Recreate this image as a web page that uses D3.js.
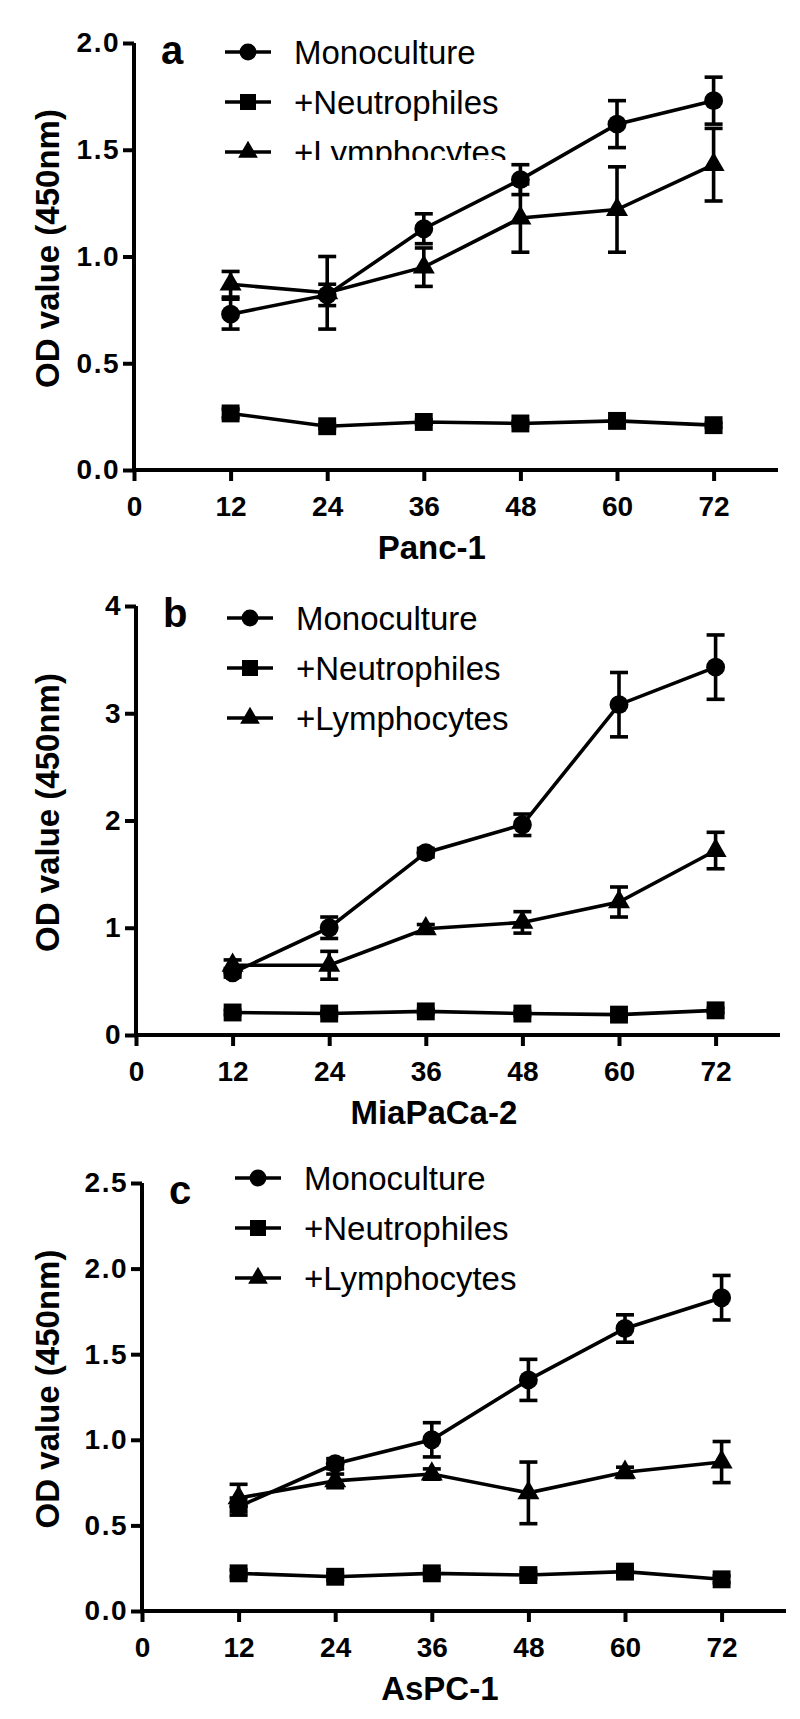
<!DOCTYPE html>
<html>
<head>
<meta charset="utf-8">
<script src="https://cdn.jsdelivr.net/npm/d3@7"></script>
<style>
  html, body { margin: 0; padding: 0; background: #fff; }
  svg { display: block; }
  text { font-family: "Liberation Sans", Arial, sans-serif; fill: #000; }
</style>
</head>
<body>
<svg id="chart" width="800" height="1719"></svg>
<script>
// ---------- data ----------
const hours = [12, 24, 36, 48, 60, 72];
const xTickValues = [0, 12, 24, 36, 48, 60, 72];
const seriesNames = ["Monoculture", "+Neutrophiles", "+Lymphocytes"];
const panelLetters = ["a", "b", "c"];
const cellLines = ["Panc-1", "MiaPaCa-2", "AsPC-1"];

const yTicksA = [0, 0.5, 1.0, 1.5, 2.0];
const yTicksB = [0, 1, 2, 3, 4];
const yTicksC = [0, 0.5, 1.0, 1.5, 2.0, 2.5];

// Panel a: Panc-1
const monoA = [0.73, 0.82, 1.13, 1.36, 1.62, 1.73];
const monoAErr = [0.07, 0.05, 0.07, 0.07, 0.11, 0.11];
const neutA = [0.265, 0.205, 0.225, 0.218, 0.23, 0.21];
const neutAErr = [0.02, 0.01, 0.01, 0.01, 0.01, 0.01];
const lymA = [0.87, 0.83, 0.95, 1.18, 1.22, 1.43];
const lymAErr = [0.06, 0.17, 0.09, 0.16, 0.20, 0.17];

// Panel b: MiaPaCa-2
const monoB = [0.58, 1.0, 1.70, 1.96, 3.08, 3.43];
const monoBErr = [0.04, 0.10, 0.04, 0.10, 0.30, 0.30];
const neutB = [0.21, 0.20, 0.22, 0.20, 0.19, 0.23];
const neutBErr = [0.02, 0.02, 0.02, 0.02, 0.02, 0.02];
const lymB = [0.65, 0.65, 0.99, 1.05, 1.24, 1.72];
const lymBErr = [0.05, 0.13, 0.04, 0.10, 0.14, 0.17];

// Panel c: AsPC-1
const monoC = [0.61, 0.86, 1.0, 1.35, 1.65, 1.83];
const monoCErr = [0.05, 0.03, 0.10, 0.12, 0.08, 0.13];
const neutC = [0.22, 0.20, 0.22, 0.21, 0.23, 0.185];
const neutCErr = [0.02, 0.02, 0.02, 0.02, 0.02, 0.02];
const lymC = [0.66, 0.76, 0.80, 0.69, 0.81, 0.87];
const lymCErr = [0.08, 0.04, 0.03, 0.18, 0.03, 0.12];

// ---------- layout ----------
const layouts = [
  { x0: 134, y0: 470, yTop: 43, xEnd: 778, yMax: 2.0, ticks: yTicksA, fmt: ".1f", legX: 91, legY: 9, clipLast: true,
    series: [[monoA, monoAErr], [neutA, neutAErr], [lymA, lymAErr]] },
  { x0: 136, y0: 1035, yTop: 606, xEnd: 780, yMax: 4, ticks: yTicksB, fmt: "d", legX: 91, legY: 12, clipLast: false,
    series: [[monoB, monoBErr], [neutB, neutBErr], [lymB, lymBErr]] },
  { x0: 142, y0: 1611, yTop: 1183, xEnd: 786, yMax: 2.5, ticks: yTicksC, fmt: ".1f", legX: 93, legY: -5, clipLast: false,
    series: [[monoC, monoCErr], [neutC, neutCErr], [lymC, lymCErr]] }
];

const symbols = [d3.symbolCircle, d3.symbolSquare, d3.symbolTriangle];
const symbolSizes = [280, 320, 210];
const SW = 3.6;
const AXW = 4;

const svg = d3.select("#chart");
const defs = svg.append("defs");

layouts.forEach((L, pi) => {
  const g = svg.append("g");
  const x = d3.scaleLinear().domain([0, 80]).range([L.x0, L.xEnd]);
  const y = d3.scaleLinear().domain([0, L.yMax]).range([L.y0, L.yTop]);

  // axes
  const yAxis = d3.axisLeft(y).tickValues(L.ticks).tickFormat(d3.format(L.fmt))
    .tickSize(11).tickPadding(3).tickSizeOuter(0);
  const yg = g.append("g").attr("transform", `translate(${L.x0},0)`).call(yAxis);
  const xAxis = d3.axisBottom(x).tickValues(xTickValues).tickFormat(d3.format("d"))
    .tickSize(11).tickPadding(15).tickSizeOuter(0);
  const xg = g.append("g").attr("transform", `translate(0,${L.y0})`).call(xAxis);
  [yg, xg].forEach(a => {
    a.select(".domain").attr("stroke", "#000").attr("stroke-width", AXW);
    a.selectAll(".tick line").attr("stroke", "#000").attr("stroke-width", AXW);
    a.selectAll(".tick text").attr("font-size", 28).attr("font-weight", "bold")
      .attr("font-family", '"Liberation Sans", Arial, sans-serif').attr("fill", "#000");
  });
  yg.selectAll(".tick text").attr("letter-spacing", 1.5);
  xg.select(".domain").attr("d", `M${L.x0 - AXW / 2},0H${L.xEnd}`);
  yg.select(".domain").attr("d", `M0,${L.yTop}V${L.y0 + AXW / 2}`);

  // y label
  g.append("text")
    .attr("transform", `translate(${59},${(L.y0 + L.yTop) / 2 - 8}) rotate(-90)`)
    .attr("text-anchor", "middle").attr("font-size", 33).attr("font-weight", "bold")
    .text("OD value (450nm)");

  // x title
  g.append("text").attr("x", x(37)).attr("y", L.y0 + 89)
    .attr("text-anchor", "middle").attr("font-size", 33).attr("font-weight", "bold")
    .text(cellLines[pi]);

  // panel letter
  g.append("text").attr("x", L.x0 + 27).attr("y", L.yTop + 21)
    .attr("font-size", 40).attr("font-weight", "bold").text(panelLetters[pi]);

  // series
  L.series.forEach((s, si) => {
    const vals = s[0], errs = s[1];
    const pts = hours.map((h, i) => ({ h, v: vals[i], e: errs[i] }));
    const sg = g.append("g");
    const eb = sg.selectAll(".eb").data(pts).join("g");
    eb.append("line").attr("x1", d => x(d.h)).attr("x2", d => x(d.h))
      .attr("y1", d => y(d.v - d.e)).attr("y2", d => y(d.v + d.e))
      .attr("stroke", "#000").attr("stroke-width", SW);
    eb.append("line").attr("x1", d => x(d.h) - 9).attr("x2", d => x(d.h) + 9)
      .attr("y1", d => y(d.v + d.e)).attr("y2", d => y(d.v + d.e))
      .attr("stroke", "#000").attr("stroke-width", SW);
    eb.append("line").attr("x1", d => x(d.h) - 9).attr("x2", d => x(d.h) + 9)
      .attr("y1", d => y(d.v - d.e)).attr("y2", d => y(d.v - d.e))
      .attr("stroke", "#000").attr("stroke-width", SW);
    sg.append("path").datum(pts)
      .attr("d", d3.line().x(d => x(d.h)).y(d => y(d.v)))
      .attr("fill", "none").attr("stroke", "#000").attr("stroke-width", SW);
    sg.selectAll(".m").data(pts).join("path")
      .attr("transform", d => `translate(${x(d.h)},${y(d.v)})`)
      .attr("d", d3.symbol().type(symbols[si]).size(symbolSizes[si]))
      .attr("fill", "#000");
  });

  // legend
  const lx = L.x0 + L.legX, ly = L.yTop + L.legY;
  const lg = g.append("g").attr("transform", `translate(${lx},${ly})`);
  seriesNames.forEach((name, si) => {
    const ry = si * 50;
    lg.append("line").attr("x1", 0).attr("x2", 46).attr("y1", ry).attr("y2", ry)
      .attr("stroke", "#000").attr("stroke-width", SW);
    lg.append("path").attr("transform", `translate(23,${ry})`)
      .attr("d", d3.symbol().type(symbols[si]).size(symbolSizes[si] * 0.8)).attr("fill", "#000");
    const t = lg.append("text").attr("x", 69).attr("y", ry).attr("dy", "0.36em")
      .attr("font-size", 33).text(name);
    if (L.clipLast && si === 2) {
      // the source figure shows the bottom of this legend label cut off
      const id = "legclip" + pi;
      defs.append("clipPath").attr("id", id).attr("clipPathUnits", "userSpaceOnUse")
        .append("rect").attr("x", lx + 60).attr("y", ly + ry - 40).attr("width", 320).attr("height", 48);
      const wrap = svg.append("g").attr("clip-path", `url(#${id})`);
      t.remove();
      wrap.append("text").attr("x", lx + 69).attr("y", ly + ry).attr("dy", "0.36em")
        .attr("font-size", 33).text(name);
    }
  });
});
</script>
</body>
</html>
